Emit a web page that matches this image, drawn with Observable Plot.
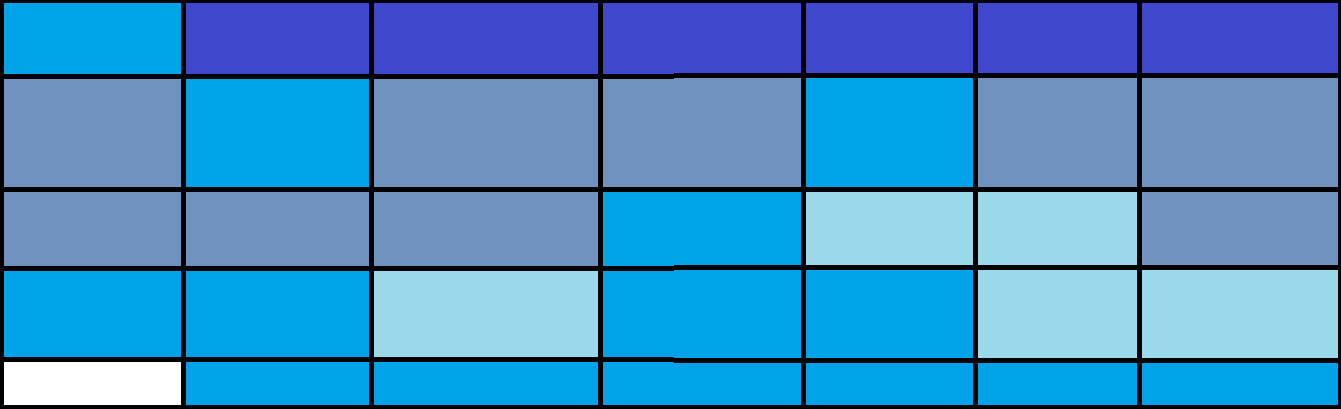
<!DOCTYPE html>
<html>
<head>
<meta charset="utf-8">
<script src="https://cdn.jsdelivr.net/npm/d3@7"></script>
<script src="https://cdn.jsdelivr.net/npm/@observablehq/plot@0.6"></script>
<style>
  html, body { margin: 0; padding: 0; background: #000; }
  #chart svg { display: block; }
</style>
</head>
<body>
<div id="chart"></div>
<script>
// Cell interior boundaries (pixel units of the grid picture)
const colStarts = [4, 186, 374, 603, 806, 978, 1142];
const colEnds   = [181, 369, 598, 801, 973, 1137, 1338];
// Horizontal dividers shift by ~1px to the right of splitX
const splitX = 674;
const rowStartsLeft  = [3, 79, 192, 271, 362];
const rowEndsLeft    = [74, 187, 266, 357, 405];
const rowStartsRight = [3, 78, 192, 270, 363];
const rowEndsRight   = [73, 187, 265, 358, 405];

const palette = {
  B: "#00A2E8", // bright blue
  I: "#3F48CC", // indigo
  S: "#7092BE", // steel blue
  L: "#99D9EA", // light blue
  W: "#FFFFFF"  // white
};
const grid = [
  ["B", "I", "I", "I", "I", "I", "I"],
  ["S", "B", "S", "S", "B", "S", "S"],
  ["S", "S", "S", "B", "L", "L", "S"],
  ["B", "B", "L", "B", "B", "L", "L"],
  ["W", "B", "B", "B", "B", "B", "B"]
];

const cells = [];
grid.forEach((row, r) => {
  row.forEach((code, c) => {
    const x1 = colStarts[c], x2 = colEnds[c];
    const parts = [];
    if (x2 <= splitX) parts.push([x1, x2, "L"]);
    else if (x1 >= splitX) parts.push([x1, x2, "R"]);
    else { parts.push([x1, splitX, "L"]); parts.push([splitX, x2, "R"]); }
    for (const [a, b, side] of parts) {
      const ys = side === "L" ? rowStartsLeft : rowStartsRight;
      const ye = side === "L" ? rowEndsLeft : rowEndsRight;
      cells.push({x1: a, x2: b, y1: ys[r], y2: ye[r], fill: palette[code]});
    }
  });
});

const chart = Plot.plot({
  width: 1341,
  height: 409,
  margin: 0,
  style: {background: "#000"},
  x: {domain: [0, 1341], range: [0, 1341], axis: null},
  y: {domain: [0, 409], range: [0, 409], axis: null},
  color: {type: "identity"},
  marks: [
    Plot.rect(cells, {x1: "x1", x2: "x2", y1: "y1", y2: "y2", fill: "fill", shapeRendering: "crispEdges"})
  ]
});
document.getElementById("chart").appendChild(chart);
</script>
</body>
</html>
